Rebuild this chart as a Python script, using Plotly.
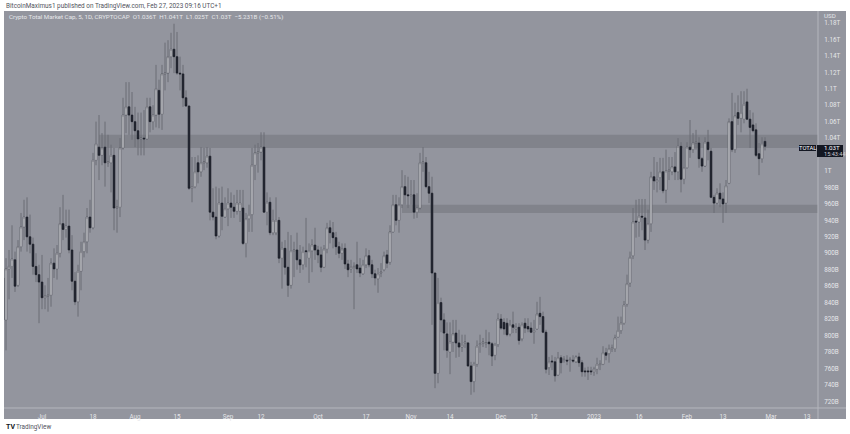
import pandas as pd
import plotly.graph_objects as go

W, H = 850, 434
L, R, T, B = 4, 818, 11, 408

open_ = [870,
 819,881,884,892,861,908,932,944,920,911,
 884,874,865,846,848,849,888,881,900,936,
 929,933,904,866,841,878,902,914,944,931,
 1013,1029,1019,1029,1010,1010,1019,955,956,1028,
 1068,1078,1068,1060,1049,1039,1040,1039,1078,1060,
 1068,1098,1069,1118,1119,1139,1148,1139,1119,1118,
 1089,1079,979,981,1010,999,1010,1010,1018,950,
 944,921,961,944,954,961,956,951,951,955,
 912,942,947,1007,1022,1023,1029,950,962,925,
 925,940,894,906,883,861,903,904,892,886,
 903,894,903,910,904,898,883,905,931,925,
 919,908,900,906,887,881,883,886,882,875,
 886,897,886,875,869,876,880,898,889,926,
 959,940,959,981,971,970,971,950,955,1010,
 1010,981,973,876,754,840,819,802,780,792,
 803,791,786,791,791,763,744,765,789,791,
 790,792,790,776,789,820,816,815,802,813,
 808,810,796,815,811,809,804,808,827,823,
 804,761,769,768,752,773,770,770,770,770,
 768,774,767,757,757,757,756,759,764,765,
 779,778,784,784,798,806,815,838,864,897,
 939,938,945,943,916,936,993,987,992,999,
 977,1000,999,1005,999,1030,990,1004,1029,1026,
 1034,1034,1015,1006,1035,1024,968,961,973,966,
 961,985,1060,1026,1071,1064,1063,1084,1063,1056,
 1050,1021,1015,1036]
high = [894,
 894,904,934,902,916,949,965,968,947,919,
 900,886,898,861,870,894,906,910,956,971,
 953,953,922,877,886,914,925,955,965,1022,
 1060,1068,1046,1060,1044,1032,1028,965,1040,1089,
 1108,1108,1096,1078,1071,1071,1074,1089,1089,1080,
 1129,1111,1129,1156,1159,1168,1179,1169,1139,1129,
 1098,1079,1017,1017,1019,1029,1028,1029,1028,979,
 981,979,981,968,979,974,971,977,977,977,
 949,959,1028,1032,1034,1047,1047,974,968,953,
 968,944,914,916,926,922,914,925,910,908,
 943,912,917,931,909,908,910,937,940,938,
 926,914,912,912,892,892,889,914,894,892,
 906,904,892,880,882,888,902,904,934,971,
 971,968,1001,995,993,989,989,973,1022,1029,
 1017,999,993,876,870,846,827,816,816,819,
 819,807,801,801,792,768,768,794,801,797,
 807,804,792,791,827,826,821,821,819,829,
 815,815,816,821,821,816,819,841,847,829,
 807,774,776,774,780,776,775,776,774,776,
 776,779,770,761,762,762,762,773,770,787,
 785,789,789,801,823,823,842,874,902,955,
 965,966,966,966,953,999,1017,1011,1016,1016,
 1026,1017,1017,1023,1040,1035,1028,1035,1062,1046,
 1050,1041,1017,1041,1050,1028,971,979,985,974,
 989,1064,1095,1083,1092,1097,1097,1100,1074,1071,
 1058,1034,1041,1041]
low = [790,
 782,844,870,853,859,902,916,902,900,874,
 865,815,832,832,829,835,870,868,895,916,
 919,900,855,837,823,855,895,900,925,929,
 1007,989,1007,981,1005,974,928,925,944,1026,
 1046,1044,1038,1029,1019,1019,1019,1038,1047,1050,
 1053,1052,1050,1098,1108,1125,1119,1117,1098,1078,
 1078,977,962,979,985,993,1001,1004,940,940,
 917,919,928,947,933,943,943,947,938,910,
 895,926,926,989,998,1013,949,934,922,922,
 922,888,857,874,847,857,871,880,876,880,
 883,864,877,892,888,877,882,900,912,906,
 898,894,892,881,871,876,832,876,871,874,
 882,883,870,861,852,871,878,882,886,925,
 934,925,955,959,955,959,942,943,953,999,
 979,961,813,736,742,804,782,773,753,780,
 773,774,780,785,762,728,731,762,779,786,
 785,776,763,770,786,807,801,799,799,803,
 803,789,793,803,804,803,790,807,813,803,
 754,752,758,744,751,754,767,764,756,767,
 767,762,750,750,746,752,751,753,758,764,
 770,767,780,780,797,802,813,835,859,893,
 919,920,928,904,912,926,977,974,977,973,
 961,989,995,989,989,974,984,1003,1016,1022,
 1026,1004,999,1005,1013,967,949,959,956,937,
 949,984,1023,1022,1056,1047,1058,1062,1028,1047,
 1017,995,1010,1025]
close = [819,
 881,884,893,860,908,932,944,920,911,884,
 874,865,846,848,849,888,881,900,936,929,
 933,904,866,841,878,902,914,944,931,1013,
 1033,1019,1028,1010,1011,1019,955,956,1028,1068,
 1078,1068,1060,1049,1039,1040,1039,1078,1060,1068,
 1100,1069,1118,1119,1139,1148,1139,1119,1118,1089,
 1079,979,981,999,999,1010,1011,1018,950,944,
 921,961,945,954,961,956,951,961,961,912,
 942,947,1007,1022,1023,1029,950,962,925,940,
 940,894,906,883,861,903,904,892,886,902,
 902,903,910,904,898,883,905,931,925,919,
 908,900,905,887,880,883,884,881,876,886,
 897,886,875,870,875,877,897,888,926,959,
 940,959,981,971,970,971,950,955,1010,1011,
 981,973,876,754,840,819,803,782,792,802,
 791,786,789,792,763,744,765,787,790,792,
 791,790,775,789,820,809,808,801,813,810,
 810,794,813,809,808,804,806,826,823,804,
 759,768,768,751,773,767,771,769,771,769,
 774,767,756,756,756,756,759,765,765,779,
 776,784,785,797,806,815,837,863,895,938,
 938,945,944,916,936,993,988,989,999,976,
 1000,1001,1005,999,1030,990,1004,1029,1026,1034,
 1035,1015,1006,1035,1026,968,961,973,966,960,
 982,1060,1026,1067,1064,1071,1081,1063,1053,1049,
 1019,1015,1033,1030]

dates = pd.date_range("2022-06-18", periods=len(close))
assert len(open_) == len(high) == len(low) == len(close)

body_high = [max(o, c) for o, c in zip(open_, close)]
body_low = [min(o, c) for o, c in zip(open_, close)]

y_ticks = [720,740,760,780,800,820,840,860,880,900,920,940,960,980,1000,1040,1060,1080,1100,1120,1140,1160,1180]
y_labels = ["720B","740B","760B","780B","800B","820B","840B","860B","880B","900B","920B","940B","960B","980B",
            "1T","1.04T","1.06T","1.08T","1.1T","1.12T","1.14T","1.16T","1.18T"]
x_ticks = ["2022-07-01","2022-07-18","2022-08-01","2022-08-15","2022-09-01","2022-09-12","2022-10-01","2022-10-17",
           "2022-11-01","2022-11-14","2022-12-01","2022-12-12","2023-01-01","2023-01-16","2023-02-01","2023-02-13",
           "2023-03-01","2023-03-13"]
x_labels = ["Jul","18","Aug","15","Sep","12","Oct","17","Nov","14","Dec","12","2023","16","Feb","13","Mar","13"]

BG = "#93959e"
ZONE = "#81838b"
WICK = "#6a6c75"
DARK = "#1a1c27"
LIGHT = "#eeeff1"
TXT = "#e6e7ea"

def px(x): return (x - L) / (R - L)
def py(y): return (B - y) / (B - T)

fig = go.Figure()
fig.add_trace(go.Candlestick(
    x=dates, open=open_, high=high, low=low, close=close,
    increasing=dict(line=dict(color=WICK, width=1), fillcolor=WICK),
    decreasing=dict(line=dict(color=WICK, width=1), fillcolor=WICK),
    whiskerwidth=0, showlegend=False, hoverinfo="skip"))
fig.add_trace(go.Candlestick(
    x=dates, open=open_, high=body_high, low=body_low, close=close,
    increasing=dict(line=dict(color="#64666f", width=0.6), fillcolor=LIGHT),
    decreasing=dict(line=dict(color=DARK, width=0.6), fillcolor=DARK),
    whiskerwidth=0, showlegend=False, hoverinfo="skip"))

shapes = [
    dict(type="rect", xref="paper", yref="paper", x0=px(R), x1=px(846), y0=py(419), y1=py(11),
         fillcolor=BG, line_width=0, layer="below"),
    dict(type="rect", xref="paper", yref="paper", x0=px(4), x1=px(846), y0=py(419), y1=py(408),
         fillcolor=BG, line_width=0, layer="below"),
    dict(type="rect", xref="x", yref="y", x0="2022-07-20", x1="2023-03-16 16:00", y0=1028, y1=1044,
         fillcolor=ZONE, line_width=0, layer="below"),
    dict(type="rect", xref="x", yref="y", x0="2022-10-29", x1="2023-03-16 16:00", y0=949, y1=959,
         fillcolor=ZONE, line_width=0, layer="below"),
    dict(type="line", xref="paper", yref="paper", x0=px(R), x1=px(R), y0=py(419), y1=py(11),
         line=dict(color="#b4b6bd", width=1)),
    dict(type="line", xref="paper", yref="paper", x0=px(4), x1=px(846), y0=py(408), y1=py(408),
         line=dict(color="#b4b6bd", width=1)),
    dict(type="rect", xref="paper", yref="paper", x0=px(799), x1=px(816), y0=py(151), y1=py(145),
         fillcolor="#131722", line_width=0),
    dict(type="rect", xref="paper", yref="paper", x0=px(817), x1=px(843), y0=py(157), y1=py(145),
         fillcolor="#131722", line_width=0),
]

def note(x, y, text, size=6.3, color=TXT, anchor="left", **kw):
    return dict(xref="paper", yref="paper", x=px(x), y=py(y), text=text, showarrow=False,
                xanchor=anchor, yanchor="middle", font=dict(size=size, color=color),
                **kw)

annotations = [
    note(4, 6, "BitcoinMaximus1 published on TradingView.com, Feb 27, 2023 09:16 UTC+1", size=6.4, color="#50535c"),
    note(7, 17, "Crypto Total Market Cap, 5, 1D, CRYPTOCAP&nbsp; O1.036T&nbsp; H1.041T&nbsp; L1.025T&nbsp; C1.03T&nbsp; −5.231B (−0.51%)", size=6.2),
    note(822, 16, "USD", size=6.2),
    note(807.5, 148, "TOTAL", size=5.8, color="#ffffff", anchor="center"),
    note(822, 148, "1.03T", size=6.2, color="#ffffff"),
    note(822, 154, "15:43:44", size=5.6, color="#c8c9ce"),
    note(4, 427, "<b>TV</b>", size=7, color="#131722"),
    note(14, 427, "TradingView", size=6.4, color="#50535c"),
]

fig.update_layout(
    width=W, height=H, autosize=False,
    margin=dict(l=L, r=W - R, t=T, b=H - B, pad=0),
    paper_bgcolor="#ffffff", plot_bgcolor=BG,
    font=dict(family="Roboto, 'Open Sans', sans-serif", size=6.3, color=TXT),
    boxgap=0.25, showlegend=False,
    shapes=shapes, annotations=annotations,
    xaxis=dict(type="date", range=["2022-06-18 08:00", "2023-03-16 16:00"], rangeslider=dict(visible=False),
               tickmode="array", tickvals=x_ticks, ticktext=x_labels, showgrid=False, zeroline=False,
               showline=False, ticks="outside", ticklen=2, tickcolor=BG,
               tickfont=dict(size=6.3, color=TXT)),
    yaxis=dict(side="right", range=[711.9, 1194.5], tickmode="array", tickvals=y_ticks, ticktext=y_labels,
               showgrid=False, zeroline=False, showline=False, ticks="outside", ticklen=4, tickcolor=BG,
               tickfont=dict(size=6.3, color=TXT)),
)

fig.write_html("out.html", config={"displayModeBar": False},
               post_script="document.body.style.margin='0';document.body.style.overflow='hidden';")
